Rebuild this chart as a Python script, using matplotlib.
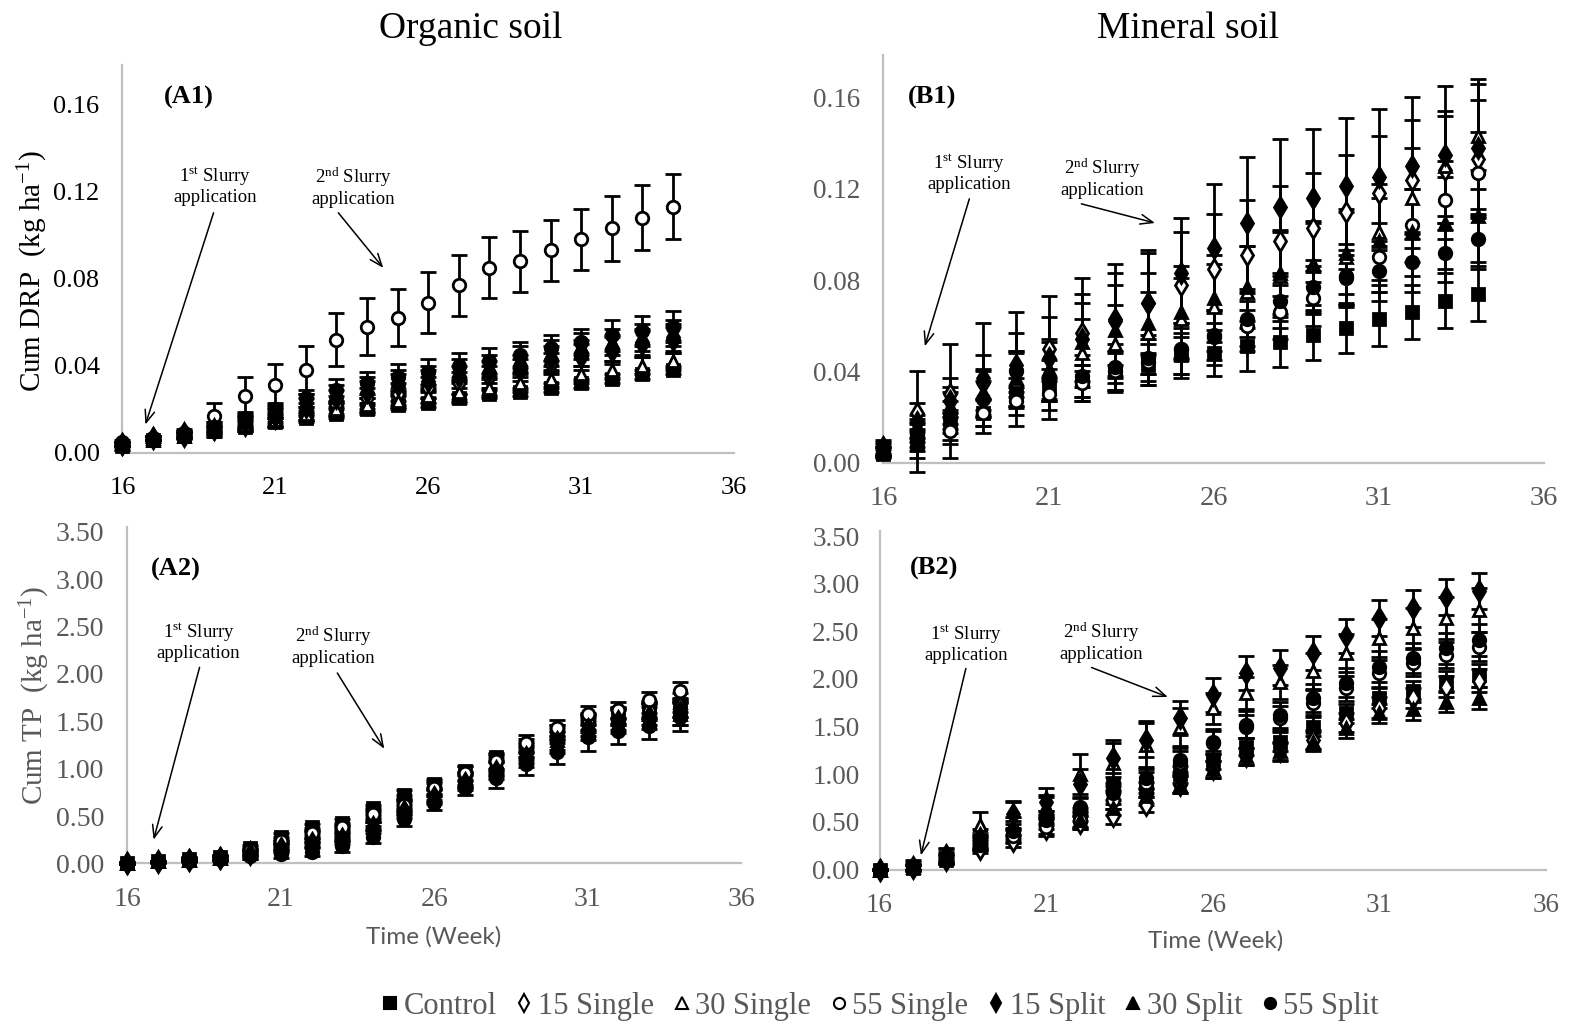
import matplotlib
matplotlib.use("Agg")
import matplotlib.pyplot as plt
from matplotlib.lines import Line2D

plt.rcParams['font.family'] = ['Liberation Serif', 'DejaVu Serif']
plt.rcParams['mathtext.fontset'] = 'custom'
plt.rcParams['mathtext.rm'] = 'Liberation Serif'
plt.rcParams['mathtext.it'] = 'Liberation Serif:italic'

weeks = list(range(16, 35))
series_names = ["Control", "15 Single", "30 Single", "55 Single", "15 Split", "30 Split", "55 Split"]

# ---------------- A1: Organic soil, cumulative DRP ----------------
A1_control = [0.003,0.006,0.008,0.010,0.012,0.014,0.016,0.018,0.020,0.022,0.023,0.025,0.027,0.028,0.030,0.032,0.034,0.036,0.038]
A1_15single = [0.004,0.007,0.008,0.011,0.013,0.016,0.019,0.022,0.025,0.027,0.030,0.032,0.035,0.038,0.041,0.044,0.047,0.050,0.052]
A1_30single = [0.004,0.006,0.008,0.010,0.013,0.015,0.018,0.020,0.022,0.024,0.026,0.028,0.030,0.032,0.034,0.036,0.038,0.040,0.042]
A1_55single = [0.005,0.007,0.009,0.017,0.026,0.031,0.038,0.052,0.058,0.062,0.069,0.077,0.085,0.088,0.093,0.098,0.103,0.108,0.113]
A1_15split = [0.004,0.007,0.009,0.011,0.014,0.017,0.021,0.025,0.028,0.031,0.033,0.035,0.037,0.040,0.043,0.046,0.048,0.051,0.053]
A1_30split = [0.004,0.007,0.009,0.012,0.015,0.019,0.023,0.027,0.030,0.033,0.035,0.038,0.040,0.043,0.046,0.049,0.051,0.053,0.055]
A1_55split = [0.004,0.007,0.009,0.012,0.016,0.020,0.025,0.029,0.032,0.035,0.037,0.040,0.042,0.045,0.048,0.051,0.054,0.056,0.058]
A1_control_err = [0.001,0.001,0.001,0.002,0.002,0.002,0.002,0.002,0.002,0.002,0.002,0.002,0.002,0.002,0.002,0.002,0.002,0.002,0.002]
A1_15single_err = [0.001,0.001,0.001,0.002,0.003,0.003,0.004,0.004,0.005,0.005,0.005,0.005,0.005,0.005,0.005,0.006,0.006,0.006,0.006]
A1_30single_err = [0.001,0.001,0.001,0.002,0.002,0.003,0.003,0.003,0.003,0.003,0.003,0.004,0.004,0.004,0.004,0.004,0.004,0.004,0.004]
A1_55single_err = [0.001,0.001,0.002,0.006,0.009,0.010,0.011,0.012,0.013,0.013,0.014,0.014,0.014,0.014,0.014,0.014,0.015,0.015,0.015]
A1_15split_err = [0.001,0.001,0.001,0.002,0.003,0.003,0.004,0.004,0.005,0.005,0.005,0.005,0.005,0.005,0.006,0.006,0.006,0.006,0.006]
A1_30split_err = [0.001,0.001,0.001,0.002,0.003,0.003,0.004,0.004,0.005,0.005,0.005,0.005,0.005,0.006,0.006,0.006,0.006,0.006,0.006]
A1_55split_err = [0.001,0.001,0.001,0.002,0.003,0.003,0.004,0.005,0.005,0.006,0.006,0.006,0.006,0.006,0.006,0.006,0.007,0.007,0.007]

# ---------------- B1: Mineral soil, cumulative DRP ----------------
B1_control = [0.004,0.008,0.016,0.022,0.031,0.034,0.036,0.040,0.043,0.047,0.048,0.051,0.053,0.056,0.059,0.063,0.066,0.071,0.074]
B1_15single = [0.006,0.022,0.030,0.035,0.043,0.050,0.057,0.063,0.070,0.078,0.085,0.091,0.097,0.103,0.110,0.118,0.124,0.128,0.133]
B1_30single = [0.005,0.016,0.025,0.031,0.036,0.040,0.048,0.052,0.057,0.063,0.068,0.075,0.082,0.086,0.090,0.101,0.116,0.130,0.143]
B1_55single = [0.005,0.012,0.014,0.022,0.027,0.030,0.035,0.040,0.044,0.050,0.056,0.060,0.066,0.072,0.082,0.090,0.104,0.115,0.127]
B1_15split = [0.007,0.018,0.027,0.037,0.041,0.046,0.054,0.062,0.070,0.083,0.094,0.105,0.112,0.116,0.121,0.125,0.130,0.135,0.138]
B1_30split = [0.006,0.014,0.023,0.030,0.037,0.041,0.053,0.058,0.061,0.066,0.072,0.077,0.083,0.087,0.092,0.097,0.101,0.105,0.108]
B1_55split = [0.005,0.010,0.020,0.028,0.040,0.036,0.038,0.042,0.046,0.050,0.055,0.063,0.071,0.077,0.081,0.084,0.088,0.092,0.098]
B1_control_err = [0.002,0.006,0.006,0.006,0.006,0.007,0.007,0.008,0.009,0.010,0.010,0.011,0.011,0.011,0.011,0.012,0.012,0.012,0.012]
B1_15single_err = [0.003,0.004,0.007,0.012,0.014,0.014,0.017,0.020,0.022,0.023,0.024,0.024,0.024,0.024,0.025,0.025,0.026,0.026,0.026]
B1_30single_err = [0.002,0.005,0.008,0.010,0.012,0.013,0.015,0.017,0.018,0.018,0.019,0.020,0.020,0.020,0.021,0.021,0.022,0.022,0.023]
B1_55single_err = [0.002,0.005,0.006,0.006,0.006,0.007,0.008,0.009,0.010,0.011,0.011,0.011,0.012,0.012,0.014,0.015,0.016,0.017,0.018]
B1_15split_err = [0.003,0.022,0.025,0.024,0.025,0.027,0.027,0.025,0.023,0.024,0.028,0.029,0.030,0.030,0.030,0.030,0.030,0.030,0.030]
B1_30split_err = [0.002,0.005,0.008,0.010,0.012,0.013,0.017,0.020,0.022,0.020,0.019,0.018,0.018,0.018,0.018,0.019,0.019,0.020,0.020]
B1_55split_err = [0.002,0.005,0.007,0.008,0.009,0.009,0.009,0.010,0.010,0.011,0.012,0.012,0.012,0.012,0.012,0.013,0.013,0.013,0.013]

# ---------------- A2: Organic soil, cumulative TP ----------------
A2_control = [0.00,0.02,0.05,0.07,0.16,0.28,0.38,0.43,0.58,0.72,0.84,0.98,1.12,1.25,1.40,1.52,1.58,1.62,1.62]
A2_15single = [0.00,0.02,0.04,0.06,0.12,0.20,0.28,0.32,0.45,0.60,0.74,0.88,1.02,1.18,1.35,1.50,1.55,1.62,1.65]
A2_30single = [0.00,0.02,0.04,0.06,0.12,0.22,0.30,0.35,0.50,0.65,0.78,0.90,1.05,1.20,1.38,1.48,1.56,1.60,1.70]
A2_55single = [0.00,0.02,0.05,0.07,0.14,0.24,0.32,0.38,0.52,0.62,0.80,0.95,1.08,1.27,1.43,1.58,1.62,1.73,1.82]
A2_15split = [0.00,0.01,0.04,0.06,0.10,0.16,0.22,0.26,0.38,0.55,0.70,0.85,0.98,1.12,1.28,1.42,1.50,1.55,1.60]
A2_30split = [0.00,0.02,0.04,0.06,0.11,0.18,0.25,0.30,0.42,0.58,0.72,0.88,1.00,1.15,1.30,1.45,1.52,1.58,1.58]
A2_55split = [0.00,0.01,0.03,0.05,0.08,0.10,0.12,0.18,0.28,0.47,0.64,0.80,0.90,1.05,1.18,1.33,1.40,1.45,1.55]
A2_control_err = [0.01,0.01,0.02,0.02,0.03,0.04,0.04,0.04,0.04,0.05,0.05,0.05,0.05,0.06,0.06,0.06,0.06,0.07,0.07]
A2_15single_err = [0.01,0.01,0.02,0.02,0.03,0.04,0.05,0.05,0.06,0.07,0.07,0.07,0.08,0.08,0.08,0.09,0.09,0.09,0.10]
A2_30single_err = [0.01,0.01,0.02,0.02,0.03,0.04,0.05,0.05,0.06,0.07,0.07,0.07,0.08,0.08,0.08,0.09,0.09,0.09,0.10]
A2_55single_err = [0.01,0.01,0.02,0.02,0.03,0.04,0.05,0.05,0.06,0.07,0.07,0.08,0.08,0.09,0.08,0.08,0.08,0.08,0.09]
A2_15split_err = [0.01,0.01,0.02,0.02,0.03,0.04,0.05,0.06,0.06,0.07,0.07,0.08,0.09,0.10,0.11,0.12,0.12,0.13,0.14]
A2_30split_err = [0.01,0.01,0.02,0.02,0.03,0.04,0.05,0.05,0.06,0.07,0.07,0.08,0.08,0.09,0.10,0.11,0.11,0.12,0.12]
A2_55split_err = [0.01,0.01,0.02,0.02,0.03,0.04,0.04,0.06,0.07,0.08,0.08,0.08,0.10,0.12,0.13,0.14,0.14,0.14,0.15]

# ---------------- B2: Mineral soil, cumulative TP ----------------
B2_control = [0.00,0.02,0.10,0.25,0.35,0.54,0.58,0.89,0.84,1.00,1.15,1.29,1.34,1.50,1.64,1.80,1.87,1.97,2.04]
B2_15single = [0.00,0.02,0.10,0.22,0.30,0.42,0.49,0.56,0.68,0.89,1.05,1.19,1.24,1.36,1.54,1.70,1.80,1.92,1.98]
B2_30single = [0.00,0.05,0.17,0.47,0.45,0.66,1.00,1.12,1.31,1.50,1.69,1.85,1.97,2.08,2.27,2.43,2.53,2.64,2.72]
B2_55single = [0.00,0.02,0.12,0.26,0.35,0.45,0.52,0.73,0.91,1.12,1.33,1.50,1.59,1.75,1.90,2.06,2.17,2.25,2.34]
B2_15split = [0.00,0.03,0.15,0.33,0.58,0.71,0.90,1.17,1.36,1.59,1.83,2.06,2.12,2.27,2.45,2.64,2.74,2.86,2.92]
B2_30split = [0.00,0.03,0.13,0.30,0.61,0.66,0.52,0.65,0.77,0.89,1.05,1.19,1.24,1.34,1.48,1.64,1.68,1.76,1.80]
B2_55split = [0.00,0.02,0.11,0.28,0.40,0.52,0.66,0.80,0.96,1.15,1.34,1.52,1.62,1.80,1.96,2.13,2.22,2.32,2.41]
B2_control_err = [0.01,0.03,0.04,0.05,0.06,0.07,0.07,0.08,0.08,0.09,0.09,0.09,0.10,0.10,0.10,0.11,0.11,0.11,0.12]
B2_15single_err = [0.01,0.03,0.04,0.05,0.06,0.07,0.07,0.08,0.08,0.09,0.09,0.09,0.10,0.10,0.10,0.11,0.11,0.11,0.12]
B2_30single_err = [0.01,0.05,0.06,0.13,0.10,0.12,0.21,0.24,0.25,0.20,0.16,0.17,0.18,0.19,0.20,0.20,0.21,0.22,0.23]
B2_55single_err = [0.01,0.03,0.04,0.06,0.07,0.08,0.09,0.10,0.11,0.12,0.12,0.12,0.13,0.13,0.13,0.14,0.14,0.14,0.15]
B2_15split_err = [0.01,0.05,0.07,0.09,0.14,0.15,0.15,0.16,0.18,0.18,0.18,0.18,0.18,0.18,0.18,0.19,0.19,0.19,0.19]
B2_30split_err = [0.01,0.03,0.05,0.07,0.10,0.10,0.07,0.08,0.09,0.09,0.09,0.09,0.09,0.10,0.10,0.10,0.11,0.11,0.12]
B2_55split_err = [0.01,0.03,0.05,0.07,0.08,0.09,0.10,0.11,0.12,0.13,0.13,0.14,0.14,0.15,0.15,0.16,0.16,0.16,0.17]

# marker styles: (marker, filled)
marker_styles = [('s', True), ('d', False), ('^', False), ('o', False), ('d', True), ('^', True), ('o', True)]

GRAY_AX = '#bfbfbf'
GRAY_TXT = '#595959'

fig = plt.figure(figsize=(15.74, 10.22), dpi=100)

axA1 = fig.add_axes([0.0778, 0.5568, 0.3885, 0.3796])
axB1 = fig.add_axes([0.5613, 0.5472, 0.4197, 0.3988])
axA2 = fig.add_axes([0.0810, 0.1552, 0.3898, 0.3290])
axB2 = fig.add_axes([0.5588, 0.1492, 0.4235, 0.3310])

panels = [
    (axA1, [A1_control, A1_15single, A1_30single, A1_55single, A1_15split, A1_30split, A1_55split],
     [A1_control_err, A1_15single_err, A1_30single_err, A1_55single_err, A1_15split_err, A1_30split_err, A1_55split_err]),
    (axB1, [B1_control, B1_15single, B1_30single, B1_55single, B1_15split, B1_30split, B1_55split],
     [B1_control_err, B1_15single_err, B1_30single_err, B1_55single_err, B1_15split_err, B1_30split_err, B1_55split_err]),
    (axA2, [A2_control, A2_15single, A2_30single, A2_55single, A2_15split, A2_30split, A2_55split],
     [A2_control_err, A2_15single_err, A2_30single_err, A2_55single_err, A2_15split_err, A2_30split_err, A2_55split_err]),
    (axB2, [B2_control, B2_15single, B2_30single, B2_55single, B2_15split, B2_30split, B2_55split],
     [B2_control_err, B2_15single_err, B2_30single_err, B2_55single_err, B2_15split_err, B2_30split_err, B2_55split_err]),
]

for ax, vals, errs in panels:
    for (mk, filled), v, e in zip(marker_styles, vals, errs):
        ax.errorbar(weeks, v, yerr=e, fmt=mk, color='black', ecolor='black',
                    elinewidth=2, capsize=6, capthick=2,
                    markersize=9 if mk != 'd' else 10,
                    markerfacecolor='black' if filled else 'white',
                    markeredgecolor='black', markeredgewidth=2, zorder=3,
                    clip_on=False)
    ax.set_xlim(16, 36)
    ax.set_xticks([16, 21, 26, 31, 36])
    for s in ['top', 'right']:
        ax.spines[s].set_visible(False)
    for s in ['left', 'bottom']:
        ax.spines[s].set_color(GRAY_AX)
        ax.spines[s].set_linewidth(1.6)
    ax.tick_params(length=0)
    ax.tick_params(axis='x', pad=17)

axA1.set_ylim(0, 0.178)
axB1.set_ylim(0, 0.1785)
axA1.set_yticks([0.00, 0.04, 0.08, 0.12, 0.16])
axB1.set_yticks([0.00, 0.04, 0.08, 0.12, 0.16])
for ax in (axA1, axB1):
    ax.set_yticklabels(['0.00', '0.04', '0.08', '0.12', '0.16'])
axA2.set_ylim(0, 3.55)
axB2.set_ylim(0, 3.55)
tp_ticks = [0.0, 0.5, 1.0, 1.5, 2.0, 2.5, 3.0, 3.5]
for ax in (axA2, axB2):
    ax.set_yticks(tp_ticks)
    ax.set_yticklabels(['%.2f' % t for t in tp_ticks])

axA1.tick_params(labelsize=19, colors='black')
axB1.tick_params(axis='y', labelsize=19.5, colors=GRAY_TXT, pad=16.5)
axB1.tick_params(axis='x', labelsize=20.5, colors=GRAY_TXT)
axA2.tick_params(labelsize=20, colors=GRAY_TXT)
axB2.tick_params(labelsize=19.5, colors=GRAY_TXT)
axA1.tick_params(axis='y', pad=16.5)
axA2.tick_params(axis='y', pad=17)
axB2.tick_params(axis='y', pad=14.5)

# y labels
fig.text(0.021, 0.735, 'Cum DRP  (kg ha$^{-1}$)', rotation=90, ha='center', va='center',
         fontsize=21, color='black')
fig.text(0.022, 0.320, 'Cum TP  (kg ha$^{-1}$)', rotation=90, ha='center', va='center',
         fontsize=21, color=GRAY_TXT)

# x labels
fig.text(0.2755, 0.0835, 'Time (Week)', ha='center', va='center', fontsize=17.5,
         color=GRAY_TXT, family=['Lato', 'DejaVu Sans'])
fig.text(0.7725, 0.0795, 'Time (Week)', ha='center', va='center', fontsize=17.5,
         color=GRAY_TXT, family=['Lato', 'DejaVu Sans'])

# column titles
fig.text(0.299, 0.972, 'Organic soil', ha='center', va='center', fontsize=27, color='black')
fig.text(0.7545, 0.972, 'Mineral soil', ha='center', va='center', fontsize=27, color='black')

# panel labels
axA1.text(18.16, 0.163, '(A1)', ha='center', va='center', fontsize=19, fontweight='bold')
axB1.text(17.46, 0.160, '(B1)', ha='center', va='center', fontsize=19, fontweight='bold')
axA2.text(17.57, 3.10, '(A2)', ha='center', va='center', fontsize=19, fontweight='bold')
axB2.text(17.63, 3.16, '(B2)', ha='center', va='center', fontsize=19, fontweight='bold')

# annotations
arrow_kw = dict(arrowstyle='->,head_length=0.9,head_width=0.35', color='black', lw=1.1,
                shrinkA=0, shrinkB=0)
annots = [
    (axA1, '1$^{\\rm st}$ Slurry\napplication', (19.02, 0.1227), (18.98, 0.1102), (16.75, 0.0130)),
    (axA1, '2$^{\\rm nd}$ Slurry\napplication', (23.55, 0.1222), (23.06, 0.1102), (24.53, 0.0849)),
    (axB1, '1$^{\\rm st}$ Slurry\napplication', (18.59, 0.1272), (18.60, 0.1156), (17.25, 0.0510)),
    (axB1, '2$^{\\rm nd}$ Slurry\napplication', (22.63, 0.1248), (21.99, 0.1134), (24.22, 0.1050)),
    (axA2, '1$^{\\rm st}$ Slurry\napplication', (18.32, 2.34), (18.35, 2.07), (16.85, 0.25)),
    (axA2, '2$^{\\rm nd}$ Slurry\napplication', (22.70, 2.30), (22.84, 2.01), (24.37, 1.21)),
    (axB2, '1$^{\\rm st}$ Slurry\napplication', (18.59, 2.37), (18.59, 2.11), (17.24, 0.148)),
    (axB2, '2$^{\\rm nd}$ Slurry\napplication', (22.66, 2.39), (22.36, 2.12), (24.65, 1.81)),
]
for ax, txt, tpos, tail, head in annots:
    ax.text(tpos[0], tpos[1], txt, ha='center', va='center', fontsize=13.5,
            linespacing=1.15, color='black')
    ax.annotate('', xy=head, xytext=tail, arrowprops=arrow_kw)

# legend
handles = []
for (mk, filled), name in zip(marker_styles, series_names):
    handles.append(Line2D([], [], linestyle='none', marker=mk, color='black',
                          markersize=8 if mk != 'd' else 9,
                          markerfacecolor='black' if filled else 'white',
                          markeredgecolor='black', markeredgewidth=1.5, label=name))
leg = fig.legend(handles=handles, loc='center', bbox_to_anchor=(0.558, 0.015), ncol=7,
                 frameon=False, fontsize=22, handletextpad=0.05, columnspacing=0.5,
                 handlelength=0.8, borderaxespad=0)
for t in leg.get_texts():
    t.set_color(GRAY_TXT)

fig.savefig('out.png', dpi=100)
